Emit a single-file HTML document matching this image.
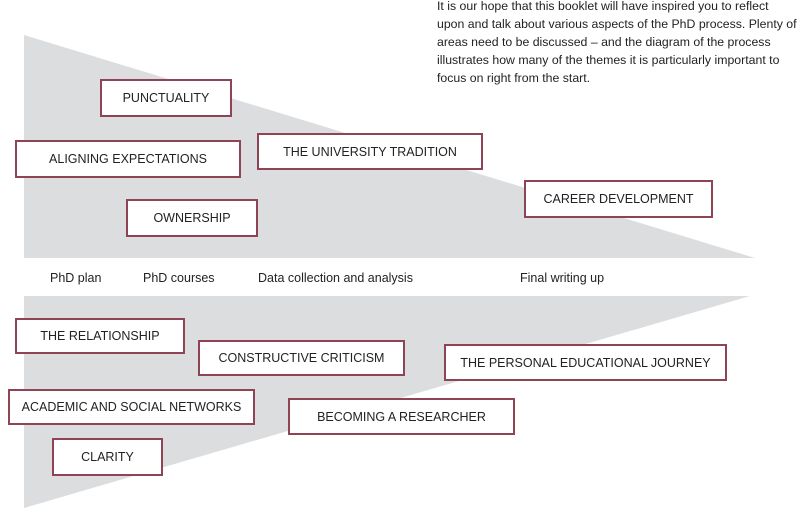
<!DOCTYPE html>
<html><head><meta charset="utf-8"><style>
body{margin:0;width:812px;height:513px;background:#fff;position:relative;overflow:hidden;font-family:"Liberation Sans",sans-serif;color:#222}
.b{position:absolute;box-sizing:border-box;border:2px solid #8e4455;background:#fff;font-size:12.5px;display:flex;align-items:center;justify-content:center;white-space:nowrap}
.l{position:absolute;font-size:12.5px;top:271px}
p{position:absolute;left:437px;top:-3px;margin:0;font-size:12.3px;line-height:18px;white-space:nowrap}
</style></head><body>
<svg width="812" height="513" style="position:absolute;left:0;top:0">
<polygon points="24,35 755,258 24,258" fill="#dcdddf"/>
<polygon points="24,296 750,296 24,508" fill="#dcdddf"/>
</svg>
<p>It is our hope that this booklet will have inspired you to reflect<br>upon and talk about various aspects of the PhD process. Plenty of<br>areas need to be discussed – and the diagram of the process<br>illustrates how many of the themes it is particularly important to<br>focus on right from the start.</p>
<div class="b" style="left:100px;top:79px;width:132px;height:38px">PUNCTUALITY</div>
<div class="b" style="left:15px;top:140px;width:226px;height:38px">ALIGNING EXPECTATIONS</div>
<div class="b" style="left:257px;top:133px;width:226px;height:37px">THE UNIVERSITY TRADITION</div>
<div class="b" style="left:126px;top:199px;width:132px;height:38px">OWNERSHIP</div>
<div class="b" style="left:524px;top:180px;width:189px;height:38px">CAREER DEVELOPMENT</div>
<div class="l" style="left:50px">PhD plan</div>
<div class="l" style="left:143px">PhD courses</div>
<div class="l" style="left:258px">Data collection and analysis</div>
<div class="l" style="left:520px">Final writing up</div>
<div class="b" style="left:15px;top:318px;width:170px;height:36px">THE RELATIONSHIP</div>
<div class="b" style="left:198px;top:340px;width:207px;height:36px">CONSTRUCTIVE CRITICISM</div>
<div class="b" style="left:444px;top:344px;width:283px;height:37px">THE PERSONAL EDUCATIONAL JOURNEY</div>
<div class="b" style="left:8px;top:389px;width:247px;height:36px">ACADEMIC AND SOCIAL NETWORKS</div>
<div class="b" style="left:288px;top:398px;width:227px;height:37px">BECOMING A RESEARCHER</div>
<div class="b" style="left:52px;top:438px;width:111px;height:38px">CLARITY</div>
</body></html>
